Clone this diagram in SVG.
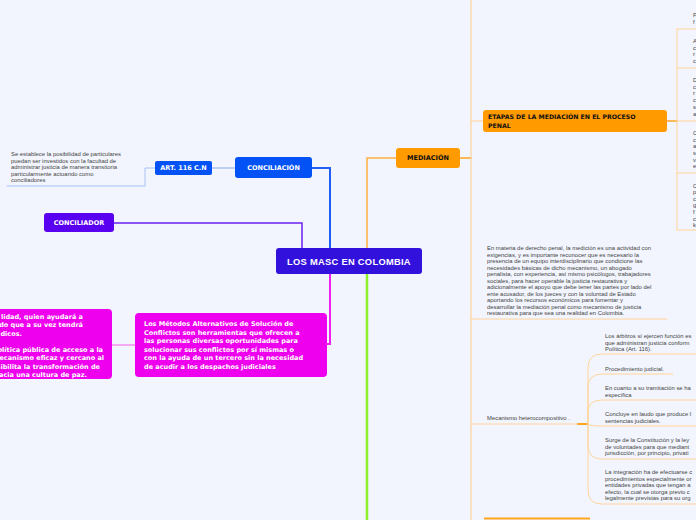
<svg xmlns="http://www.w3.org/2000/svg" width="696" height="520" viewBox="0 0 696 520">
<style>
.bg{fill:#f2f5fd}
.nt{font-family:"DejaVu Sans","Liberation Sans",sans-serif;font-weight:bold;fill:#fff}
.dt{font-family:"DejaVu Sans","Liberation Sans",sans-serif;font-weight:bold;fill:#111}
.sm{font-family:"Liberation Sans",Arial,sans-serif;font-size:5.9px;fill:#444}
.ln{fill:none;stroke-linecap:round}
</style>
<rect class="bg" x="0" y="0" width="696" height="520"/>

<g id="connectors">
  <path class="ln" d="M302 248 V223 H114" stroke="#6a20f0" stroke-width="1.5"/>
  <path class="ln" d="M330 248 V168 H312" stroke="#1f5ff5" stroke-width="2"/>
  <path class="ln" d="M367 248 V158 H396" stroke="#ffb040" stroke-width="1.5"/>
  <path class="ln" d="M330 274 V344 H327" stroke="#f020f0" stroke-width="2"/>
  <path class="ln" d="M367 274 V520" stroke="#8ef02a" stroke-width="2.5"/>
  <path class="ln" d="M235 168 H212" stroke="#a9c2f5" stroke-width="1.5"/>
  <path class="ln" d="M155 168 H145 V186 H7" stroke="#a9c2f5" stroke-width="1"/>
  <path class="ln" d="M135 345 H112" stroke="#f590f0" stroke-width="1.5"/>
  <path class="ln" d="M460 158 H471" stroke="#ffa520" stroke-width="1.5"/>
  <path class="ln" d="M471 0 V520" stroke="#ffd49a" stroke-width="1.2"/>
  <path class="ln" d="M471 121 H483" stroke="#ffd49a" stroke-width="1.2"/>
  <path class="ln" d="M471 319 H667" stroke="#ffd49a" stroke-width="1"/>
  <path class="ln" d="M471 424 H578" stroke="#ffd49a" stroke-width="1"/>
  <path class="ln" d="M578 424 H588" stroke="#ffa520" stroke-width="1.8"/>
  <path class="ln" d="M667 121 H677" stroke="#ffa520" stroke-width="1.5"/>
  <path class="ln" d="M677 29 V230" stroke="#ffd49a" stroke-width="1"/>
  <path class="ln" d="M677 29 H696 M677 68 H696 M677 121 H696 M677 173 H696 M677 230 H696" stroke="#ffd49a" stroke-width="1"/>
  <g stroke="#ffd49a" stroke-width="1" fill="none">
    <path d="M588 424 V368 Q588 354 602 354 H696"/>
    <path d="M588 424 V388 Q588 374 602 374 H673"/>
    <path d="M588 424 V412 Q588 400 602 400 H696"/>
    <path d="M588 424 Q590 426 602 426 H696"/>
    <path d="M588 424 V445 Q588 459 602 459 H696"/>
    <path d="M588 424 V490 Q588 504 602 504 H696"/>
  </g>
  <path d="M484 518.5 H590" stroke="#ffa520" stroke-width="2" fill="none"/>
</g>

<g id="center">
  <rect x="276" y="248" width="146" height="26" rx="3" fill="#3311dd"/>
  <text x="349" y="264.5" font-size="9.3" text-anchor="middle" letter-spacing="0.3" font-family="Liberation Sans, Arial, sans-serif" font-weight="bold" fill="#fff">LOS MASC EN COLOMBIA</text>
</g>

<g id="conciliacion">
  <rect x="235" y="157" width="77" height="21" rx="3" fill="#0352f5"/>
  <text class="nt" x="273.5" y="170.3" font-size="6.5" text-anchor="middle">CONCILIACIÓN</text>
</g>

<g id="art116">
  <rect x="155" y="161" width="57" height="14" rx="2" fill="#0352f5"/>
  <text class="nt" x="183.5" y="170.3" font-size="6.5" text-anchor="middle">ART. 116 C.N</text>
</g>

<g id="art116-text">
  <text class="sm" font-size="6.1"><tspan x="11" y="156">Se establece la posibilidad de particulares</tspan><tspan x="11" y="162.5">puedan ser investidos con la facultad de</tspan><tspan x="11" y="169">administrar justicia de manera transitoria</tspan><tspan x="11" y="175.5">particularmente actuando como</tspan><tspan x="11" y="182">conciliadores</tspan></text>
</g>

<g id="conciliador">
  <rect x="44" y="213" width="70" height="19" rx="3" fill="#5a00f0"/>
  <text class="nt" x="79" y="224.8" font-size="6.5" text-anchor="middle">CONCILIADOR</text>
</g>

<g id="masc-definicion">
  <rect x="135" y="313" width="192" height="64" rx="4" fill="#ee00ee"/>
  <text class="nt" font-size="6.5"><tspan x="144" y="326">Los Métodos Alternativos de Solución de</tspan><tspan x="144" y="334.5">Conflictos son herramientas que ofrecen a</tspan><tspan x="144" y="343">las personas diversas oportunidades para</tspan><tspan x="144" y="351.5">solucionar sus conflictos por sí mismas o</tspan><tspan x="144" y="360">con la ayuda de un tercero sin la necesidad</tspan><tspan x="144" y="368.5">de acudir a los despachos judiciales</tspan></text>
</g>

<g id="masc-politica">
  <rect x="-20" y="309" width="132" height="70" rx="4" fill="#ee00ee"/>
  <text class="nt" font-size="6.5" text-anchor="end"><tspan x="83" y="318.5">lidad, quien ayudará a</tspan><tspan x="83" y="327">do que a su vez tendrá</tspan><tspan x="22" y="335.5">dicos.</tspan><tspan x="103" y="351.5">olítica pública de acceso a la</tspan><tspan x="104" y="360">mecanismo eficaz y cercano al</tspan><tspan x="100" y="368.5">sibilita la transformación de</tspan><tspan x="87" y="377">acia una cultura de paz.</tspan></text>
</g>

<g id="mediacion">
  <rect x="396" y="148" width="64" height="20" rx="3" fill="#ff9a00"/>
  <text class="dt" x="428" y="160.3" font-size="6.5" text-anchor="middle">MEDIACIÓN</text>
</g>

<g id="etapas">
  <rect x="483" y="110" width="184" height="22" rx="3" fill="#ff9a00"/>
  <text class="dt" font-size="6.2"><tspan x="488" y="119">ETAPAS DE LA MEDIACIÓN EN EL PROCESO</tspan><tspan x="488" y="127.5">PENAL</tspan></text>
</g>

<g id="etapas-hijos">
  <text class="sm"><tspan x="693" y="17">P</tspan><tspan x="693" y="24">f</tspan></text>
  <text class="sm"><tspan x="693" y="43">A</tspan><tspan x="693" y="50">c</tspan><tspan x="693" y="56">r</tspan><tspan x="693" y="63">c</tspan></text>
  <text class="sm"><tspan x="693" y="82">D</tspan><tspan x="693" y="89">c</tspan><tspan x="693" y="95">r</tspan><tspan x="693" y="102">c</tspan><tspan x="693" y="109">s</tspan><tspan x="693" y="116">a</tspan></text>
  <text class="sm"><tspan x="693" y="135">C</tspan><tspan x="693" y="142">c</tspan><tspan x="693" y="148">a</tspan><tspan x="693" y="155">s</tspan><tspan x="693" y="162">v</tspan><tspan x="693" y="168">e</tspan></text>
  <text class="sm"><tspan x="693" y="188">C</tspan><tspan x="693" y="194">p</tspan><tspan x="693" y="201">c</tspan><tspan x="693" y="207">g</tspan><tspan x="693" y="214">f</tspan><tspan x="693" y="221">c</tspan><tspan x="693" y="227">k</tspan></text>
</g>

<g id="mediacion-penal">
  <text class="sm" font-size="5.8"><tspan x="487" y="250">En materia de derecho penal, la medición es una actividad con</tspan><tspan x="487" y="256.5">exigencias, y es importante reconocer que es necesario la</tspan><tspan x="487" y="263">presencia de un equipo interdisciplinario que condicione las</tspan><tspan x="487" y="269.5">necesidades básicas de dicho mecanismo, un abogado</tspan><tspan x="487" y="276">penalista, con experiencia, así mismo psicólogos, trabajadores</tspan><tspan x="487" y="282.5">sociales, para hacer operable la justicia restaurativa y</tspan><tspan x="487" y="289">adicionalmente el apoyo que debe tener las partes por lado del</tspan><tspan x="487" y="295.5">ente acusador, de los jueces y con la voluntad de Estado</tspan><tspan x="487" y="302">aportando los recursos económicos para fomentar y</tspan><tspan x="487" y="308.5">desarrollar la mediación penal como mecanismo de justicia</tspan><tspan x="487" y="315">restaurativa para que sea una realidad en Colombia.</tspan></text>
</g>

<g id="mecanismo">
  <text class="sm" x="487" y="420">Mecanismo heterocompositivo .</text>
</g>

<g id="mecanismo-hijos">
  <text class="sm"><tspan x="605" y="338">Los árbitros sí ejercen función es</tspan><tspan x="605" y="344.5">que administran justicia conform</tspan><tspan x="605" y="351">Política (Art. 116).</tspan></text>
  <text class="sm" x="605" y="370.5">Procedimiento judicial.</text>
  <text class="sm"><tspan x="605" y="390">En cuanto a su tramitación se ha</tspan><tspan x="605" y="396.5">específica</tspan></text>
  <text class="sm"><tspan x="605" y="416">Concluye en laudo que produce l</tspan><tspan x="605" y="422.5">sentencias judiciales.</tspan></text>
  <text class="sm"><tspan x="605" y="442">Surge de la Constitución y la ley</tspan><tspan x="605" y="448.5">de voluntades para que mediant</tspan><tspan x="605" y="455">jurisdicción, por principio, privati</tspan></text>
  <text class="sm"><tspan x="605" y="474">La integración ha de efectuarse c</tspan><tspan x="605" y="480.5">procedimientos especialmente or</tspan><tspan x="605" y="487">entidades privadas que tengan a</tspan><tspan x="605" y="493.5">efecto, la cual se otorga previo c</tspan><tspan x="605" y="500">legalmente previstas para su org</tspan></text>
</g>
</svg>
